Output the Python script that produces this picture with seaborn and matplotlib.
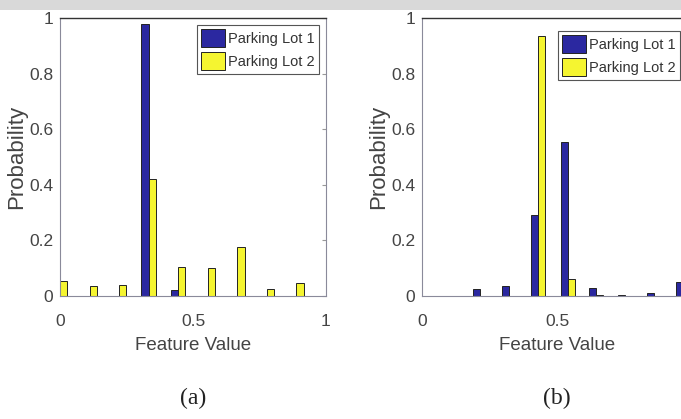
import numpy as np
import pandas as pd
import matplotlib
matplotlib.use("Agg")
import matplotlib.pyplot as plt
import seaborn as sns
from matplotlib.patches import Rectangle

# panel (a) histogram bins and probabilities
bins_a = [0.0, 0.111, 0.222, 0.333, 0.444, 0.556, 0.667, 0.778, 0.889]
lot1_a = [0.0, 0.0, 0.0, 0.98, 0.02, 0.0, 0.0, 0.0, 0.0]
lot2_a = [0.055, 0.035, 0.04, 0.42, 0.105, 0.10, 0.175, 0.025, 0.045]

# panel (b)
bins_b = [0.215, 0.322, 0.43, 0.54, 0.645, 0.752, 0.86, 0.967]
lot1_b = [0.025, 0.035, 0.29, 0.555, 0.03, 0.004, 0.01, 0.05]
lot2_b = [0.0, 0.0, 0.935, 0.06, 0.004, 0.0, 0.0, 0.0]

series_names = ["Parking Lot 1", "Parking Lot 2"]
palette = {"Parking Lot 1": "#2b28a0", "Parking Lot 2": "#f5f530"}
panel_labels = ["(a)", "(b)"]
y_ticks = [0, 0.2, 0.4, 0.6, 0.8, 1]
y_ticklabels = ["0", "0.2", "0.4", "0.6", "0.8", "1"]
x_ticks = [0, 0.5, 1]
x_ticklabels_a = ["0", "0.5", "1"]
x_ticklabels_b = ["0", "0.5", ""]  # the "1" falls outside the cropped picture


def make_df(bins, lot1, lot2):
    return pd.DataFrame({
        "value": list(bins) + list(bins),
        "prob": list(lot1) + list(lot2),
        "lot": [series_names[0]] * len(bins) + [series_names[1]] * len(bins),
    })


sns.set_style("white")
plt.rcParams["font.family"] = ["Liberation Sans", "DejaVu Sans"]

W, H = 681, 419
fig = plt.figure(figsize=(W / 100, H / 100), dpi=100)
fig.patches.append(Rectangle((0, 1 - 10 / H), 1, 10 / H, transform=fig.transFigure,
                             facecolor="#d9d9d9", edgecolor="none", zorder=0))

ax_a = fig.add_axes([60 / W, 1 - 296 / H, 266 / W, 278 / H])
ax_b = fig.add_axes([422 / W, 1 - 296 / H, 270 / W, 278 / H])

datasets = [make_df(bins_a, lot1_a, lot2_a), make_df(bins_b, lot1_b, lot2_b)]
legend_pos = [(197 / W, 1 - 25 / H), (558 / W, 1 - 31 / H)]
xlabels = [x_ticklabels_a, x_ticklabels_b]

for ax, df, plab, lpos, xtl in zip([ax_a, ax_b], datasets, panel_labels, legend_pos, xlabels):
    sns.barplot(data=df, x="value", y="prob", hue="lot", palette=palette,
                native_scale=True, width=0.5, saturation=1,
                edgecolor="#222222", linewidth=0.7, ax=ax)
    ax.set_xlim(0, 1)
    ax.set_ylim(0, 1)
    ax.set_xticks(x_ticks)
    ax.set_xticklabels(xtl)
    ax.set_yticks(y_ticks)
    ax.set_yticklabels(y_ticklabels)
    ax.tick_params(direction="in", length=3, labelsize=12.5, colors="#999999",
                   labelcolor="#444444", top=False, right=True)
    ax.tick_params(axis="x", pad=13)
    ax.tick_params(axis="y", pad=5)
    ax.set_xlabel("Feature Value", fontsize=13.5, color="#444444", labelpad=6)
    ax.set_ylabel("Probability", fontsize=16, color="#444444", labelpad=1)
    for side in ["left", "right", "bottom"]:
        ax.spines[side].set_color("#8a8a9a")
        ax.spines[side].set_linewidth(0.8)
    ax.spines["top"].set_color("#333333")
    ax.spines["top"].set_linewidth(1.0)

    leg = ax.legend(loc="upper left", bbox_to_anchor=lpos, bbox_transform=fig.transFigure,
                    fontsize=10.5, frameon=True, fancybox=False, framealpha=1,
                    edgecolor="#555555", handlelength=1.7, handleheight=1.6,
                    handletextpad=0.2, labelspacing=0.3, borderpad=0.25,
                    borderaxespad=0, title=None)
    leg.get_frame().set_linewidth(0.8)
    for t in leg.get_texts():
        t.set_color("#333333")

    ax.text(0.5, -0.37, plab, transform=ax.transAxes, ha="center", va="center",
            fontsize=17, family=["Liberation Serif", "DejaVu Serif"], color="#222222")

fig.savefig("out.png", dpi=100)
